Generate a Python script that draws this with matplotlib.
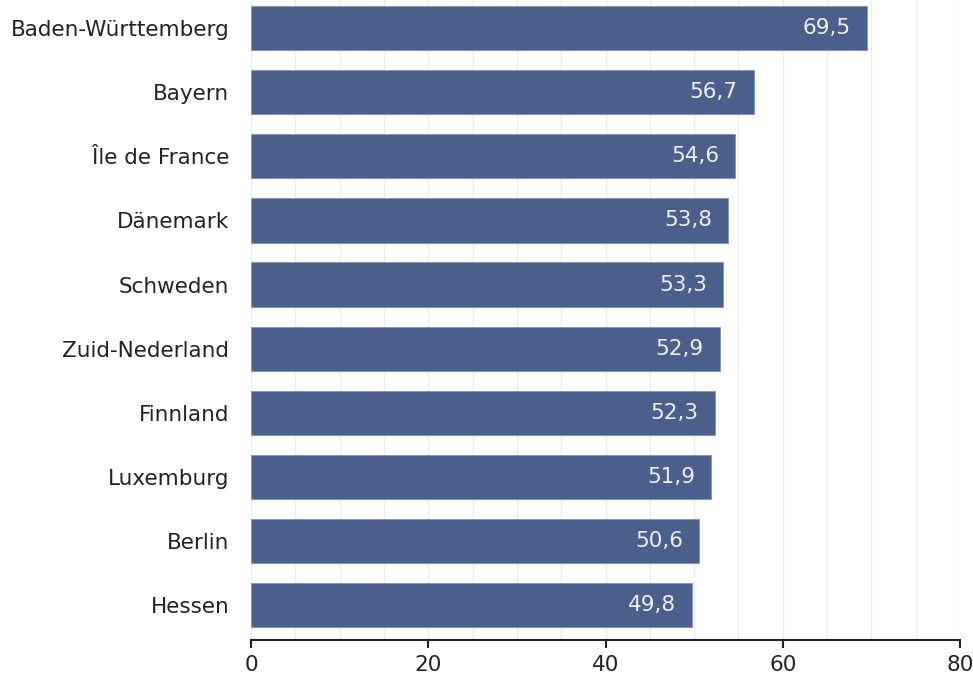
import matplotlib
matplotlib.use("Agg")
import matplotlib.pyplot as plt
from matplotlib.ticker import MultipleLocator

regions = ["Baden-Württemberg", "Bayern", "Île de France", "Dänemark", "Schweden",
           "Zuid-Nederland", "Finnland", "Luxemburg", "Berlin", "Hessen"]
values = [69.5, 56.7, 54.6, 53.8, 53.3, 52.9, 52.3, 51.9, 50.6, 49.8]
xticks = [0, 20, 40, 60, 80]

plt.rcParams['font.family'] = ['DejaVu Sans']
fig = plt.figure(figsize=(9.73, 6.77), dpi=100)
ax = fig.add_axes([251/973, 1 - 640/677, (960 - 251)/973, 640/677])

y = list(range(len(regions)))
ax.barh(y, values, height=0.69, color="#4a5f8c", edgecolor="#8594b5", linewidth=0.6, zorder=3)
for yi, v in zip(y, values):
    ax.text(v - 1.8, yi, f"{v:.1f}".replace(".", ","), ha="right", va="center",
            color="#eef0f5", fontsize=15.5, zorder=4)

ax.set_xlim(0, 80)
ax.set_ylim(9.546, -0.44)
ax.set_yticks(y)
ax.set_yticklabels(regions, fontsize=15.5, color="#222222")
ax.set_xticks(xticks)
ax.set_xticklabels([str(t) for t in xticks], fontsize=15.5, color="#222222")
ax.xaxis.set_minor_locator(MultipleLocator(5))
ax.grid(axis="x", which="both", color="#ececec", linewidth=1, zorder=0)
ax.tick_params(axis="y", length=0, pad=15.5)
ax.tick_params(axis="x", which="major", length=6, width=1.5, color="#222222", pad=5)
ax.tick_params(axis="x", which="minor", length=0)
for s in ["top", "right", "left"]:
    ax.spines[s].set_visible(False)
ax.spines["bottom"].set_linewidth(1.5)
ax.spines["bottom"].set_color("#222222")

fig.savefig("out.png", dpi=100)
